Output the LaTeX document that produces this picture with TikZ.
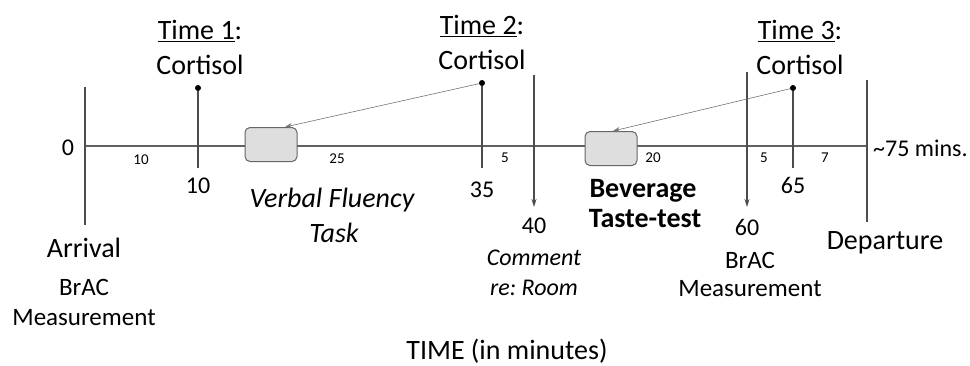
\documentclass[tikz,border=0pt]{standalone}
\usepackage{fontspec}
\setmainfont{Carlito}
\usetikzlibrary{arrows.meta,calc}
\begin{document}
\frenchspacing
\begin{tikzpicture}[x=1pt,y=-1pt,
 axis/.style={draw=black!62, line width=1.1pt},
 tick/.style={draw=black!70, line width=1.2pt},
 lbl/.style={inner sep=0pt, anchor=base, yshift=-9.5pt, font=\fontsize{28}{32}\selectfont},
 mid/.style={inner sep=0pt, anchor=base, yshift=-8.5pt, font=\fontsize{25}{29}\selectfont},
 num/.style={inner sep=0pt, anchor=base, yshift=-8pt, font=\fontsize{24}{28}\selectfont},
 small/.style={inner sep=0pt, anchor=base, yshift=-5pt, font=\fontsize{15}{18}\selectfont},
 taskbox/.style={draw=black!60, fill=black!13, rounded corners=5pt, minimum width=52pt, minimum height=34pt, line width=1pt, inner sep=0pt},
 dot/.style={circle, fill=black, inner sep=0pt, minimum size=6pt},
 link/.style={draw=black!55, line width=0.6pt, -{Stealth[length=7pt,width=5pt]}},
 down/.style={tick, -{Stealth[length=8pt,width=5pt]}},
]
\useasboundingbox (0,0) rectangle (970,365);

% timeline
\coordinate (t0) at (85,146);
\coordinate (tend) at (867,146);
\draw[axis] (t0) -- (tend);

% arrival / departure lines
\coordinate (arrTop) at (85,87);
\coordinate (arrBot) at (85,225);
\draw[tick] (arrTop) -- (arrBot);
\coordinate (depTop) at (867,80);
\coordinate (depBot) at (867,222);
\draw[tick] (depTop) -- (depBot);

% cortisol ticks
\node[dot] (d1) at (198,88) {};
\coordinate (d1b) at (198,168);
\draw[tick] (d1) -- (d1b);
\node[dot] (d2) at (482,83) {};
\coordinate (d2b) at (482,168);
\draw[tick] (d2) -- (d2b);
\node[dot] (d3) at (793,88) {};
\coordinate (d3b) at (793,168);
\draw[tick] (d3) -- (d3b);

% comment & BrAC arrows
\coordinate (cTop) at (534,75);
\coordinate (cBot) at (534,207);
\draw[down] (cTop) -- (cBot);
\coordinate (bTop) at (747,72);
\coordinate (bBot) at (747,207);
\draw[down] (bTop) -- (bBot);

% task boxes
\node[taskbox] (box1) at (271,144.5) {};
\node[taskbox] (box2) at (611,148.5) {};
\draw[link] (d2) -- ($(box1.north)+(14,0)$);
\draw[link] (d3) -- ($(box2.north)+(2,0)$);

% zero
\node[num] (zero) at (68,147) {0};

% interval labels
\node[small] (i1) at (141,159) {10};
\node[small] (i2) at (337,158) {25};
\node[small] (i3) at (505,157) {5};
\node[small] (i4) at (653,157) {20};
\node[small] (i5) at (764,157) {5};
\node[small] (i6) at (825,157) {7};

% minute labels
\node[num] (m10) at (198,185) {10};
\node[num] (m35) at (482,189) {35};
\node[num] (m65) at (793,185) {65};
\node[num] (m40) at (534,225) {40};
\node[num] (m60) at (747,227) {60};

% time labels
\node[lbl] (T1) at (200,30) {\underline{Time 1}:};
\node[lbl] (C1) at (200,65) {Cortisol};
\node[lbl] (T2) at (482,25) {\underline{Time 2}:};
\node[lbl] (C2) at (482,60) {Cortisol};
\node[lbl] (T3) at (800,30) {\underline{Time 3}:};
\node[lbl] (C3) at (800,65) {Cortisol};

% tasks
\node[lbl, font=\fontsize{28}{32}\selectfont\itshape] (vf1) at (332,198) {Verbal Fluency};
\node[lbl, font=\fontsize{28}{32}\selectfont\itshape] (vf2) at (334,233) {Task};
\node[lbl, font=\fontsize{28}{32}\selectfont\bfseries] (bt1) at (643,188) {Beverage};
\node[lbl, font=\fontsize{28}{32}\selectfont\bfseries] (bt2) at (645,218) {Taste-test};

% comment
\node[num, font=\fontsize{24}{28}\selectfont\itshape] (cm1) at (534,257) {Comment};
\node[num, font=\fontsize{24}{28}\selectfont\itshape] (cm2) at (534,287) {re: Room};

% arrival
\node[lbl] (arr) at (84,248) {Arrival};
\node[mid] (arrB) at (84,287) {BrAC};
\node[mid] (arrM) at (84,317) {Measurement};

% BrAC at 60
\node[mid] (b60B) at (750,260) {BrAC};
\node[mid] (b60M) at (750,288) {Measurement};

% departure
\node[lbl] (dep) at (885,240) {Departure};
\node[num, anchor=base west] (tot) at (873,148) {\textasciitilde 75 mins.};

% axis title
\node[lbl] (title) at (507,350) {TIME (in minutes)};
\end{tikzpicture}
\end{document}
